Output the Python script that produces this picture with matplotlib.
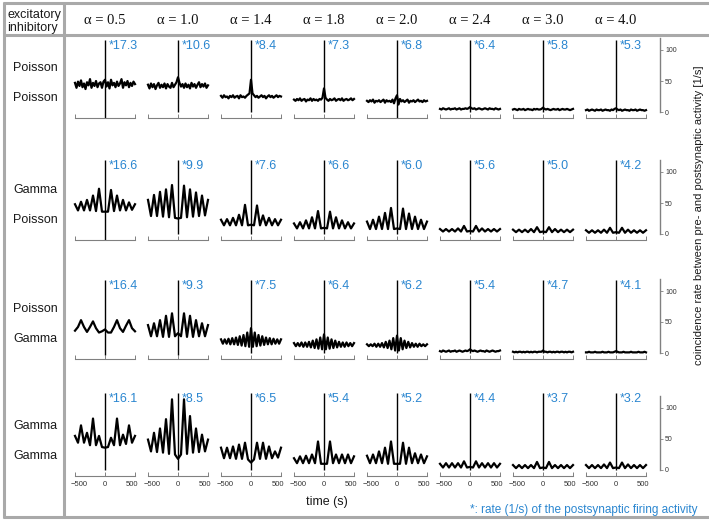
import matplotlib
matplotlib.use('Agg')
import matplotlib.pyplot as plt
import matplotlib.transforms as mtransforms
from matplotlib.lines import Line2D
import numpy as np

# ---- data ----
alphas = ["0.5", "1.0", "1.4", "1.8", "2.0", "2.4", "3.0", "4.0"]
row_exc = ["Poisson", "Gamma", "Poisson", "Gamma"]
row_inh = ["Poisson", "Poisson", "Gamma", "Gamma"]

post_rates = [
    [17.3, 10.6, 8.4, 7.3, 6.8, 6.4, 5.8, 5.3],
    [16.6, 9.9, 7.6, 6.6, 6.0, 5.6, 5.0, 4.2],
    [16.4, 9.3, 7.5, 6.4, 6.2, 5.4, 4.7, 4.1],
    [16.1, 8.5, 6.5, 5.4, 5.2, 4.4, 3.7, 3.2],
]

# height of the (clipped) zero-lag peak per row, and where it starts
spike_top = [116, 119, 118, 124]
spike_low = [
    [-9, 0, 0, 0, -9, 0, 0, 0],
    [-9, 0, 0, 0, 0, 0, 0, 0],
    [-3, -3, 0, 0, 0, 0, 0, 0],
    [0, 0, 0, 0, 0, 0, 0, 0],
]

# correlograms, values evenly spread over -500..500
pp_curves = [
    [47, 39, 49, 42, 51, 40, 46, 37, 48, 43, 53, 39, 47, 42, 50, 40, 46, 48, 39, 49, 52,
     41, 48, 38, 52, 43, 47, 40, 49, 42, 46, 53, 39, 48, 43, 50, 40, 47, 42, 49, 45],
    [44, 38, 46, 40, 45, 37, 43, 47, 39, 44, 40, 46, 38, 45, 41, 39, 47, 40, 44, 48, 56,
     47, 41, 45, 39, 46, 40, 44, 38, 47, 41, 45, 39, 44, 48, 40, 45, 41, 46, 39, 43],
    [26, 23, 27, 24, 25, 22, 26, 24, 27, 23, 25, 26, 22, 27, 24, 25, 23, 26, 28, 30, 52,
     30, 27, 24, 26, 23, 25, 27, 24, 26, 22, 25, 27, 24, 26, 23, 25, 27, 24, 26, 25],
    [20, 18, 21, 19, 22, 18, 20, 21, 17, 20, 19, 22, 18, 21, 19, 20, 18, 21, 20, 23, 38,
     23, 20, 18, 21, 19, 20, 22, 18, 20, 21, 19, 22, 18, 20, 21, 19, 20, 22, 19, 21],
    [18, 16, 19, 17, 20, 15, 18, 17, 19, 16, 18, 20, 15, 19, 17, 18, 16, 20, 14, 22, 27,
     12, 21, 17, 19, 16, 18, 20, 15, 18, 17, 19, 16, 18, 20, 17, 18, 16, 19, 17, 18],
    [5, 4, 6, 5, 4, 5, 6, 4, 5, 5, 6, 4, 5, 6, 4, 5, 5, 6, 5, 6, 8,
     6, 5, 6, 4, 5, 6, 5, 4, 5, 6, 5, 4, 6, 5, 5, 4, 6, 5, 4, 5],
    [4, 5, 4, 3, 5, 4, 4, 5, 3, 4, 5, 4, 4, 3, 5, 4, 5, 4, 4, 5, 7,
     5, 4, 5, 4, 3, 4, 5, 4, 4, 5, 3, 4, 5, 4, 4, 5, 4, 3, 4, 5],
    [3, 4, 2, 3, 4, 3, 2, 4, 3, 3, 4, 2, 3, 4, 3, 3, 2, 4, 3, 5, 6,
     4, 3, 4, 2, 3, 4, 3, 3, 2, 4, 3, 3, 4, 2, 3, 4, 3, 3, 2, 3],
]

gp_curves = [
    [48, 38, 52, 38, 55, 38, 62, 37, 73, 36, 36, 36, 71, 37, 62, 38, 55, 38, 51, 39, 48],
    [55, 29, 63, 29, 68, 28, 72, 27, 79, 26, 25, 26, 78, 27, 72, 28, 67, 29, 62, 30, 55],
    [23, 14, 24, 14, 26, 14, 31, 14, 47, 14, 15, 14, 46, 14, 30, 14, 26, 14, 24, 14, 23],
    [17, 9, 19, 9, 22, 9, 27, 9, 37, 9, 10, 9, 36, 9, 27, 9, 22, 9, 19, 9, 17],
    [20, 8, 23, 8, 28, 8, 34, 8, 42, 8, 9, 8, 41, 8, 33, 8, 28, 8, 23, 8, 20],
    [8, 4, 8, 4, 8, 4, 9, 4, 13, 4, 5, 4, 13, 4, 9, 4, 8, 4, 8, 4, 8],
    [7, 3, 7, 3, 7, 3, 8, 3, 11, 3, 4, 3, 11, 3, 8, 3, 7, 3, 7, 3, 7],
    [6, 2, 6, 2, 6, 2, 7, 2, 10, 2, 3, 2, 10, 2, 7, 2, 6, 2, 6, 2, 6],
]

pg_curves = [
    [36, 42, 53, 42, 34, 42, 51, 40, 33, 35, 38, 33, 33, 42, 53, 40, 34, 44, 53, 40, 35],
    [45, 27, 48, 27, 53, 26, 60, 26, 64, 27, 32, 27, 64, 26, 60, 26, 53, 27, 48, 27, 45],
    [22, 15, 22, 15, 23, 14, 24, 14, 25, 13, 27, 12, 29, 11, 33, 10, 40,
     10, 33, 11, 29, 12, 27, 13, 25, 14, 24, 14, 23, 15, 22, 15, 22],
    [16, 11, 16, 11, 17, 10, 17, 10, 18, 9, 20, 8, 22, 7, 25, 6, 30,
     6, 25, 7, 22, 8, 20, 9, 18, 10, 17, 10, 17, 11, 16, 11, 16],
    [14, 11, 14, 11, 15, 10, 15, 10, 16, 9, 18, 8, 20, 6, 24, 4, 28,
     4, 24, 6, 20, 8, 18, 9, 16, 10, 15, 10, 15, 11, 14, 11, 14],
    [3, 2, 4, 3, 2, 3, 4, 2, 3, 3, 4, 2, 3, 4, 3, 2, 3, 4, 3, 4, 6,
     4, 3, 4, 3, 2, 3, 4, 3, 3, 2, 4, 3, 2, 3, 4, 3, 2, 3, 3, 4],
    [2, 1, 2, 1, 2, 2, 1, 2, 1, 2, 2, 1, 2, 1, 2, 2, 1, 2, 2, 2, 4,
     2, 2, 1, 2, 2, 1, 2, 1, 2, 2, 1, 2, 2, 1, 2, 1, 2, 2, 1, 2],
    [1, 1, 2, 1, 1, 1, 2, 1, 1, 1, 1, 2, 1, 1, 1, 2, 1, 1, 1, 2, 3,
     2, 1, 1, 1, 2, 1, 1, 1, 1, 2, 1, 1, 1, 1, 2, 1, 1, 1, 2, 1],
]

gg_curves = [
    [55, 44, 72, 44, 60, 40, 83, 40, 55, 37, 36, 37, 52, 40, 83, 40, 57, 42, 72, 44, 55],
    [49, 30, 60, 29, 67, 28, 82, 26, 114, 25, 18, 25, 114, 26, 87, 28, 67, 29, 57, 30, 49],
    [36, 19, 36, 19, 38, 18, 41, 18, 44, 17, 12, 17, 44, 18, 44, 18, 38, 19, 30, 20, 36],
    [19, 11, 22, 11, 23, 11, 25, 11, 46, 10, 10, 10, 46, 11, 25, 11, 25, 11, 25, 11, 22],
    [23, 11, 25, 11, 30, 11, 36, 10, 46, 10, 10, 10, 44, 10, 36, 11, 27, 11, 25, 11, 22],
    [10, 4, 11, 4, 11, 4, 11, 4, 14, 4, 5, 4, 14, 4, 11, 4, 11, 4, 11, 4, 10],
    [8, 3, 8, 3, 8, 3, 8, 3, 13, 3, 4, 3, 13, 3, 8, 3, 8, 3, 8, 3, 8],
    [8, 3, 8, 3, 8, 3, 9, 3, 12, 3, 4, 3, 12, 3, 9, 3, 8, 3, 8, 3, 8],
]

all_curves = [pp_curves, gp_curves, pg_curves, gg_curves]
time_ticks = [-500, 0, 500]
rate_ticks = [0, 50, 100]

# ---- layout (pixels) ----
W, H = 709, 524
col_x = [105, 178, 251, 324, 397, 470, 543, 616]
row_zero = [112, 234, 353, 470]
PX = 0.62          # pixels per rate unit
YMIN, YMAX = -9, 126
PANEL_W = 60

BLUE = '#2a86d0'
GRAY = '#a9a9a9'
SANS = 'Liberation Sans'

def fx(p):
    return p / W

def fy(p):
    return 1 - p / H

fig = plt.figure(figsize=(W / 100, H / 100), dpi=100)

def panel_rect(cx, y0, width=PANEL_W):
    bottom = fy(y0 - YMIN * PX)
    height = (YMAX - YMIN) * PX / H
    return [fx(cx - width / 2), bottom, width / W, height]

label_shift = [4, 0, -3]   # pixels, pulls the end labels inwards

for r in range(4):
    for c in range(8):
        ax = fig.add_axes(panel_rect(col_x[c], row_zero[r]))
        vals = np.array(all_curves[r][c], dtype=float)
        t = np.linspace(-500, 500, len(vals))
        ax.plot(t, vals, color='black', lw=1.6, clip_on=False, solid_joinstyle='round')
        ax.vlines(0, spike_low[r][c], spike_top[r], color='black', lw=1.0)
        ax.text(60, spike_top[r] - 10, f"*{post_rates[r][c]:.1f}", color=BLUE,
                fontsize=9, family=SANS, ha='left', va='center')
        ax.set_xlim(-500, 500)
        ax.set_ylim(YMIN, YMAX)
        for s in ['top', 'left', 'right']:
            ax.spines[s].set_visible(False)
        ax.spines['bottom'].set_color('#808080')
        ax.spines['bottom'].set_linewidth(0.8)
        ax.set_yticks([])
        ax.set_xticks(time_ticks)
        ax.tick_params(axis='x', direction='in', length=3, width=0.7, color='#808080',
                       labelsize=5.5, labelcolor='#333333', pad=4, labelbottom=(r == 3))
        for lab, dx in zip(ax.get_xticklabels(), label_shift):
            lab.set_family(SANS)
            lab.set_transform(lab.get_transform() +
                              mtransforms.ScaledTranslation(dx / 100, 0, fig.dpi_scale_trans))
        ax.patch.set_visible(False)

    # rate axis on the right
    axr = fig.add_axes(panel_rect(659, row_zero[r], width=1))
    axr.set_ylim(YMIN, YMAX)
    for s in ['top', 'left', 'bottom']:
        axr.spines[s].set_visible(False)
    axr.spines['right'].set_bounds(0, 120)
    axr.spines['right'].set_color('#808080')
    axr.spines['right'].set_linewidth(1.0)
    axr.set_xticks([])
    axr.set_yticks(rate_ticks)
    axr.yaxis.tick_right()
    axr.tick_params(axis='y', direction='out', length=2, width=0.6, color='#808080',
                    labelsize=5, labelcolor='#333333', pad=2)
    for lab in axr.get_yticklabels():
        lab.set_family(SANS)
    axr.patch.set_visible(False)

    fig.text(fx(35), fy(row_zero[r] - 44), row_exc[r], fontsize=9, family=SANS,
             ha='center', va='center', color='#1a1a1a')
    fig.text(fx(35), fy(row_zero[r] - 14), row_inh[r], fontsize=9, family=SANS,
             ha='center', va='center', color='#1a1a1a')

# headers
for c, a in enumerate(alphas):
    fig.text(fx(col_x[c]), fy(21), f"α = {a}", fontsize=10.5, family='Liberation Serif',
             ha='center', va='center', color='#111111')
fig.text(fx(7), fy(15), "excitatory", fontsize=9, family=SANS, ha='left', va='center',
         color='#1a1a1a')
fig.text(fx(7), fy(28), "inhibitory", fontsize=9, family=SANS, ha='left', va='center',
         color='#1a1a1a')

fig.text(fx(699), fy(215), "coincidence rate between pre- and postsynaptic activity [1/s]",
         rotation=90, fontsize=8, family=SANS, ha='center', va='center', color='#1a1a1a')
fig.text(fx(327), fy(502), "time (s)", fontsize=9, family=SANS, ha='center', va='center',
         color='#1a1a1a')
fig.text(fx(698), fy(510), "*: rate (1/s) of the postsynaptic firing activity", fontsize=8.5,
         family=SANS, ha='right', va='center', color=BLUE)

# grey table frame
frame = [
    ((3, 709), (2.5, 2.5)),
    ((3, 709), (35, 35)),
    ((3, 709), (517, 517)),
    ((4, 4), (2, 518)),
    ((64, 64), (2, 518)),
]
for xs, ys in frame:
    fig.add_artist(Line2D([fx(xs[0]), fx(xs[1])], [fy(ys[0]), fy(ys[1])],
                          color=GRAY, lw=2.2, solid_capstyle='butt'))

fig.savefig('out.png', dpi=100)
